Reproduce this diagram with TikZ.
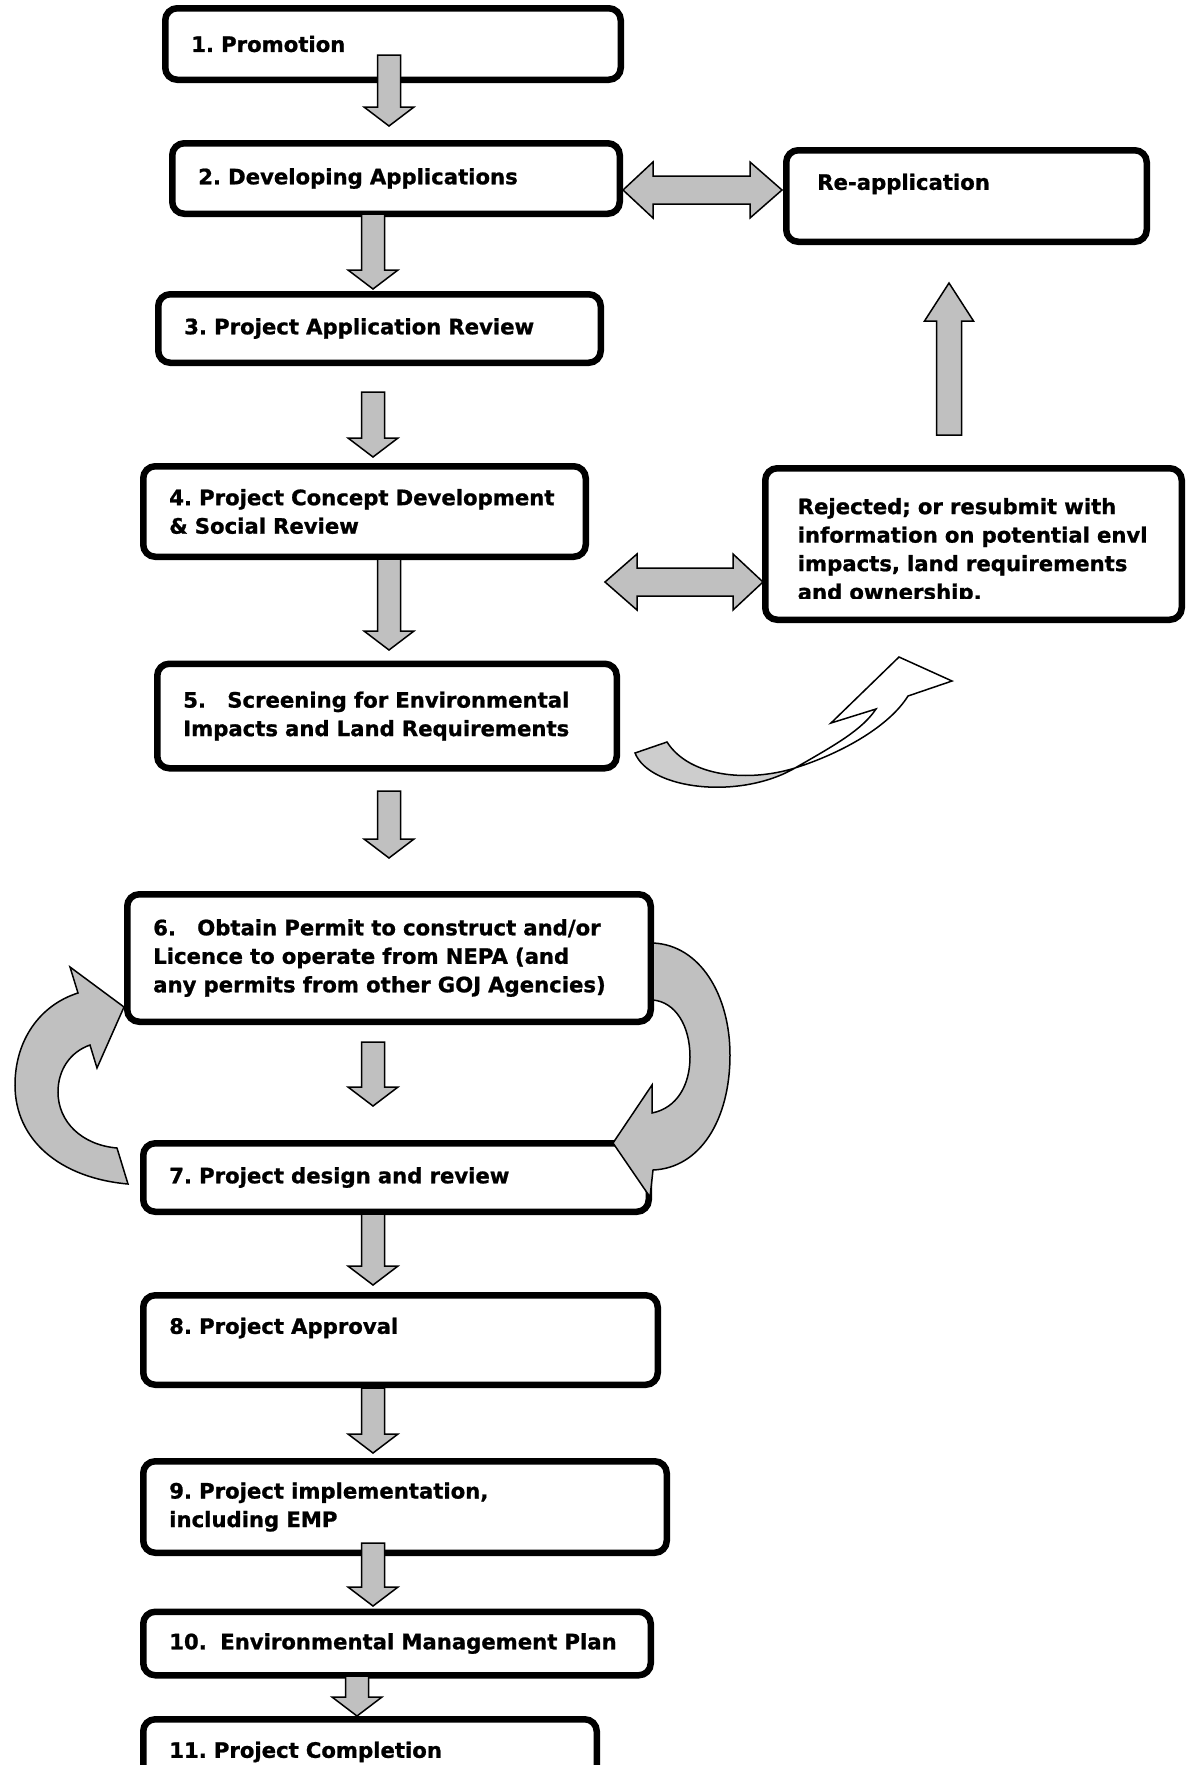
\documentclass[tikz,border=0pt]{standalone}
\usepackage{fontspec}
\setmainfont{DejaVu Sans}[BoldFeatures={FakeBold=1}]
\definecolor{arrowgray}{HTML}{C0C0C0}
\frenchspacing

\begin{document}
\begin{tikzpicture}[x=1pt,y=-1pt,
    stage/.style={draw, line width=6.5pt, rounded corners=12pt, fill=white, align=left,
      inner xsep=26pt, font=\bfseries\fontsize{21.2}{28.5}\selectfont},
    blockarrow/.style={draw, line width=1.5pt, fill=arrowgray, line join=miter}]
  \useasboundingbox (0,0) rectangle (1193,1765);
  \clip (0,0) rectangle (1193,1765);

  % boxes of the main column
  \node[stage, text width=403.5pt, minimum height=71.5pt] (promo) at (393,44) {1. Promotion};
  \node[stage, text width=395.5pt, minimum height=70.5pt] (develop) at (396,178.5) {2. Developing Applications};
  \node[stage, text width=390.5pt, minimum height=68.5pt] (review) at (379.5,328.5) {3. Project Application Review};
  \node[stage, text width=390.5pt, minimum height=90.5pt] (concept) at (364.5,511.5) {4. Project Concept Development\\\& Social Review};
  \node[stage, text width=407.5pt, minimum height=104.5pt] (screen) at (387,716) {\makebox[44pt][l]{5.}Screening for Environmental\\Impacts and Land Requirements};
  \node[stage, text width=471.5pt, minimum height=127.5pt] (permit) at (389,958) {\makebox[44pt][l]{6.}Obtain Permit to construct and/or\\Licence to operate from NEPA (and\\any permits from other GOJ Agencies)};
  \node[stage, text width=453.5pt, minimum height=68.5pt] (design) at (396,1177.5) {7. Project design and review};
  \node[stage, text width=462.5pt, minimum height=89.5pt] (approval) at (400.5,1340) {8. Project Approval\\\mbox{}};
  \node[stage, text width=471.5pt, minimum height=91.5pt] (implement) at (405,1507) {9. Project implementation,\\including EMP};
  \node[stage, text width=455.5pt, minimum height=63.5pt] (emp) at (397,1643.5) {\makebox[51pt][l]{10.}Environmental Management Plan};
  \node[stage, text width=401.5pt, minimum height=65.5pt] (completion) at (370,1752) {11. Project Completion};

  % boxes on the right
  \node[stage, inner xsep=31pt, text width=298.5pt, minimum height=91.5pt] (reapp) at (966.5,196) {Re-application\\\mbox{}};
  \node[stage, text width=364.5pt, minimum height=151.5pt] (rej) at (973.5,544) {};
  \begin{scope}
    \clip (760,460) rectangle (1190,598);
    \node[stage, draw=none, fill=none, text width=364.5pt, minimum height=151.5pt] (rejtext) at (980,551)
      {Rejected; or resubmit with\\information on potential envl\\impacts, land requirements\\and ownership.};
  \end{scope}

  % down arrows
  \foreach \x/\ya/\yb in {389/55/126, 373/214/289, 373/392/457, 389/559/650, 389/791/858,
                          373/1042/1106, 373/1214/1285, 373/1388/1453, 373/1543/1606, 357/1676/1716}
    \draw[blockarrow] (\x-11.5,\ya) -- (\x+11.5,\ya) -- (\x+11.5,\yb-19) -- (\x+25,\yb-19)
      -- (\x,\yb) -- (\x-25,\yb-19) -- (\x-11.5,\yb-19) -- cycle;

  % double arrows and up arrow
  \draw[blockarrow] (623,190) -- (653,162) -- (653,176) -- (750,176) -- (750,162) -- (782,190)
    -- (750,218) -- (750,204) -- (653,204) -- (653,218) -- cycle; % develop <-> reapp
  \draw[blockarrow] (605,582) -- (637,554) -- (637,568) -- (733,568) -- (733,554) -- (763,582)
    -- (733,610) -- (733,596) -- (637,596) -- (637,610) -- cycle; % concept <-> rej
  \draw[blockarrow] (949,283) -- (973.5,321) -- (961.5,321) -- (961.5,435) -- (936.5,435)
    -- (936.5,321) -- (924.5,321) -- cycle; % rej -> reapp

  % curved arrow from screening
  \path[fill=white] (635,753) .. controls (650,790) and (740,800) .. (795,768)
    .. controls (835,745) and (862,730) .. (876,709) -- (831,723) -- (899,657) -- (952,681) -- (908,696)
    .. controls (890,725) and (845,752) .. (795,768) .. controls (750,782) and (690,778) .. (667,742) -- cycle;
  \begin{scope}
    \clip (600,700) rectangle (795,820);
    \fill[arrowgray!80] (635,753) .. controls (650,790) and (740,800) .. (795,768)
      .. controls (750,782) and (690,778) .. (667,742) -- cycle;
  \end{scope}
  \draw[line width=1.5pt, line join=miter] (635,753) .. controls (650,790) and (740,800) .. (795,768)
    .. controls (835,745) and (862,730) .. (876,709) -- (831,723) -- (899,657) -- (952,681) -- (908,696)
    .. controls (890,725) and (845,752) .. (795,768) .. controls (750,782) and (690,778) .. (667,742) -- cycle;

  % loop arrows between permit and design
  \draw[blockarrow] (128,1184) .. controls (60,1178) and (15,1140) .. (15,1085)
    .. controls (15,1040) and (40,1005) .. (78,993) -- (70,967) -- (124,1007) -- (97,1068) -- (90,1045)
    .. controls (70,1052) and (58,1070) .. (58,1092) .. controls (58,1122) and (82,1145) .. (117,1148) -- cycle;
  \draw[blockarrow] (653,943) .. controls (700,945) and (730,995) .. (730,1055)
    .. controls (730,1120) and (700,1168) .. (653,1170) -- (650,1197) -- (613,1143) -- (652,1085) -- (652,1113)
    .. controls (677,1108) and (690,1085) .. (690,1057) .. controls (690,1025) and (675,1002) .. (653,1000) -- cycle;
\end{tikzpicture}
\end{document}
